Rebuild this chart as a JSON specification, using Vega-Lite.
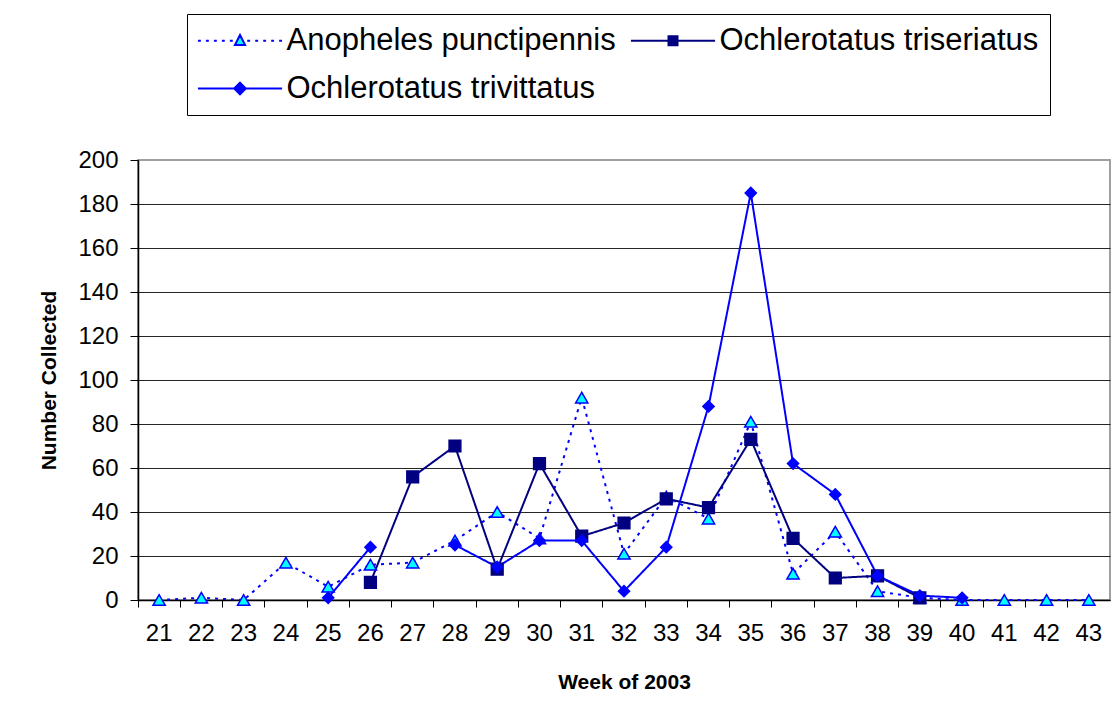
{
  "$schema": "https://vega.github.io/schema/vega-lite/v6.json",
  "width": 972,
  "height": 440,
  "autosize": {"type": "none"},
  "padding": {"left": 138, "top": 160, "right": 10, "bottom": 121},
  "background": "white",
  "config": {
    "font": "Liberation Sans",
    "view": {"stroke": "#a0a0a0", "strokeWidth": 2},
    "legend": {
      "orient": "none",
      "direction": "horizontal",
      "legendX": 49,
      "legendY": -146,
      "columns": 2,
      "columnPadding": 10,
      "rowPadding": 16,
      "symbolSize": 841,
      "symbolStrokeWidth": 2,
      "symbolOffset": 26.5,
      "labelFontSize": 31,
      "labelFont": "Liberation Sans",
      "labelColor": "black",
      "labelOffset": 31,
      "labelLimit": 600,
      "strokeColor": "black",
      "fillColor": "white",
      "padding": 11
    }
  },
  "data": {
    "values": [
      {"week": 21, "species": "Anopheles punctipennis", "count": 0},
      {"week": 22, "species": "Anopheles punctipennis", "count": 1},
      {"week": 23, "species": "Anopheles punctipennis", "count": 0},
      {"week": 24, "species": "Anopheles punctipennis", "count": 17},
      {"week": 25, "species": "Anopheles punctipennis", "count": 6},
      {"week": 26, "species": "Anopheles punctipennis", "count": 16},
      {"week": 27, "species": "Anopheles punctipennis", "count": 17},
      {"week": 28, "species": "Anopheles punctipennis", "count": 27},
      {"week": 29, "species": "Anopheles punctipennis", "count": 40},
      {"week": 30, "species": "Anopheles punctipennis", "count": 28},
      {"week": 31, "species": "Anopheles punctipennis", "count": 92},
      {"week": 32, "species": "Anopheles punctipennis", "count": 21},
      {"week": 33, "species": "Anopheles punctipennis", "count": 47},
      {"week": 34, "species": "Anopheles punctipennis", "count": 37},
      {"week": 35, "species": "Anopheles punctipennis", "count": 81},
      {"week": 36, "species": "Anopheles punctipennis", "count": 12},
      {"week": 37, "species": "Anopheles punctipennis", "count": 31},
      {"week": 38, "species": "Anopheles punctipennis", "count": 4},
      {"week": 39, "species": "Anopheles punctipennis", "count": 1},
      {"week": 40, "species": "Anopheles punctipennis", "count": 0},
      {"week": 41, "species": "Anopheles punctipennis", "count": 0},
      {"week": 42, "species": "Anopheles punctipennis", "count": 0},
      {"week": 43, "species": "Anopheles punctipennis", "count": 0},
      {"week": 26, "species": "Ochlerotatus triseriatus", "count": 8},
      {"week": 27, "species": "Ochlerotatus triseriatus", "count": 56},
      {"week": 28, "species": "Ochlerotatus triseriatus", "count": 70},
      {"week": 29, "species": "Ochlerotatus triseriatus", "count": 14},
      {"week": 30, "species": "Ochlerotatus triseriatus", "count": 62},
      {"week": 31, "species": "Ochlerotatus triseriatus", "count": 29},
      {"week": 32, "species": "Ochlerotatus triseriatus", "count": 35},
      {"week": 33, "species": "Ochlerotatus triseriatus", "count": 46},
      {"week": 34, "species": "Ochlerotatus triseriatus", "count": 42},
      {"week": 35, "species": "Ochlerotatus triseriatus", "count": 73},
      {"week": 36, "species": "Ochlerotatus triseriatus", "count": 28},
      {"week": 37, "species": "Ochlerotatus triseriatus", "count": 10},
      {"week": 38, "species": "Ochlerotatus triseriatus", "count": 11},
      {"week": 39, "species": "Ochlerotatus triseriatus", "count": 1},
      {"week": 25, "species": "Ochlerotatus trivittatus", "count": 1},
      {"week": 26, "species": "Ochlerotatus trivittatus", "count": 24},
      {"week": 27, "species": "Ochlerotatus trivittatus", "count": null},
      {"week": 28, "species": "Ochlerotatus trivittatus", "count": 25},
      {"week": 29, "species": "Ochlerotatus trivittatus", "count": 15},
      {"week": 30, "species": "Ochlerotatus trivittatus", "count": 27},
      {"week": 31, "species": "Ochlerotatus trivittatus", "count": 27},
      {"week": 32, "species": "Ochlerotatus trivittatus", "count": 4},
      {"week": 33, "species": "Ochlerotatus trivittatus", "count": 24},
      {"week": 34, "species": "Ochlerotatus trivittatus", "count": 88},
      {"week": 35, "species": "Ochlerotatus trivittatus", "count": 185},
      {"week": 36, "species": "Ochlerotatus trivittatus", "count": 62},
      {"week": 37, "species": "Ochlerotatus trivittatus", "count": 48},
      {"week": 38, "species": "Ochlerotatus trivittatus", "count": 11},
      {"week": 39, "species": "Ochlerotatus trivittatus", "count": 2},
      {"week": 40, "species": "Ochlerotatus trivittatus", "count": 1}
    ]
  },
  "encoding": {
    "x": {
      "field": "week",
      "type": "ordinal",
      "scale": {"type": "band", "paddingInner": 0, "paddingOuter": 0},
      "axis": {
        "bandPosition": 0,
        "tickSize": 7,
        "tickColor": "black",
        "domainColor": "black",
        "domainWidth": 1.5,
        "labelAngle": 0,
        "labelFontSize": 24,
        "labelColor": "black",
        "labelPadding": 14,
        "grid": false,
        "title": "Week of 2003",
        "titleFontSize": 21,
        "titleFontWeight": "bold",
        "titleColor": "black",
        "titlePadding": 26
      }
    },
    "y": {
      "field": "count",
      "type": "quantitative",
      "scale": {"domain": [0, 200], "nice": false},
      "axis": {
        "values": [0, 20, 40, 60, 80, 100, 120, 140, 160, 180, 200],
        "tickSize": 8,
        "tickColor": "black",
        "domainColor": "black",
        "domainWidth": 1.5,
        "labelFontSize": 24,
        "labelColor": "black",
        "labelPadding": 12,
        "grid": true,
        "gridColor": {"condition": {"test": "datum.value === 200", "value": "#a0a0a0"}, "value": "#262626"},
        "gridWidth": 1,
        "title": "Number Collected",
        "titleFontSize": 21,
        "titleFontWeight": "bold",
        "titleColor": "black",
        "titlePadding": 18
      }
    }
  },
  "resolve": {"scale": {"shape": "independent", "fill": "independent", "stroke": "independent"}},
  "layer": [
    {
      "mark": {"type": "line", "strokeWidth": 2, "invalid": "break-paths-show-domains"},
      "encoding": {
        "color": {
          "field": "species",
          "type": "nominal",
          "scale": {
            "domain": ["Anopheles punctipennis", "Ochlerotatus triseriatus", "Ochlerotatus trivittatus"],
            "range": ["#0000FF", "#000080", "#0000FF"]
          },
          "legend": null
        },
        "strokeDash": {
          "field": "species",
          "type": "nominal",
          "scale": {
            "domain": ["Anopheles punctipennis", "Ochlerotatus triseriatus", "Ochlerotatus trivittatus"],
            "range": [[3, 5], [1, 0], [1, 0]]
          },
          "legend": null
        }
      }
    },
    {
      "mark": {"type": "point", "opacity": 1, "fillOpacity": 1, "strokeWidth": 1.5},
      "encoding": {
        "shape": {
          "field": "species",
          "type": "nominal",
          "scale": {
            "domain": ["Anopheles punctipennis", "Ochlerotatus triseriatus", "Ochlerotatus trivittatus"],
            "range": ["triangle-up", "square", "diamond"]
          },
          "legend": null
        },
        "fill": {
          "field": "species",
          "type": "nominal",
          "scale": {
            "domain": ["Anopheles punctipennis", "Ochlerotatus triseriatus", "Ochlerotatus trivittatus"],
            "range": ["#00FFFF", "#000080", "#0000FF"]
          },
          "legend": null
        },
        "stroke": {
          "field": "species",
          "type": "nominal",
          "scale": {
            "domain": ["Anopheles punctipennis", "Ochlerotatus triseriatus", "Ochlerotatus trivittatus"],
            "range": ["#0000FF", "#000080", "#0000FF"]
          },
          "legend": null
        },
        "size": {
          "field": "species",
          "type": "nominal",
          "scale": {
            "domain": ["Anopheles punctipennis", "Ochlerotatus triseriatus", "Ochlerotatus trivittatus"],
            "range": [150, 125, 170]
          },
          "legend": null
        }
      }
    },
    {
      "transform": [{"filter": "datum.count > 1000"}],
      "mark": {"type": "point", "opacity": 1, "fillOpacity": 1, "strokeWidth": 2},
      "encoding": {
        "shape": {
          "field": "species",
          "type": "nominal",
          "scale": {
            "domain": ["Anopheles punctipennis", "Ochlerotatus triseriatus", "Ochlerotatus trivittatus"],
            "range": [
              "M-2.9,0L-2.7,0M-2.35,0L-2.15,0M-1.8,0L-1.6,0M-1.25,0L-1.05,0M-0.7,0L-0.5,0M0.5,0L0.7,0M1.05,0L1.25,0M1.6,0L1.8,0M2.15,0L2.35,0M2.7,0L2.9,0M0,-0.4L0.35,0.3L-0.35,0.3Z",
              "M-2.9,0L2.9,0M-0.31,-0.31L0.31,-0.31L0.31,0.31L-0.31,0.31Z",
              "M-2.9,0L2.9,0M0,-0.4L0.4,0L0,0.4L-0.4,0Z"
            ]
          },
          "legend": {"title": null}
        },
        "fill": {
          "field": "species",
          "type": "nominal",
          "scale": {
            "domain": ["Anopheles punctipennis", "Ochlerotatus triseriatus", "Ochlerotatus trivittatus"],
            "range": ["#00FFFF", "#000080", "#0000FF"]
          },
          "legend": {"title": null}
        },
        "stroke": {
          "field": "species",
          "type": "nominal",
          "scale": {
            "domain": ["Anopheles punctipennis", "Ochlerotatus triseriatus", "Ochlerotatus trivittatus"],
            "range": ["#0000FF", "#000080", "#0000FF"]
          },
          "legend": {"title": null}
        }
      }
    }
  ]
}
